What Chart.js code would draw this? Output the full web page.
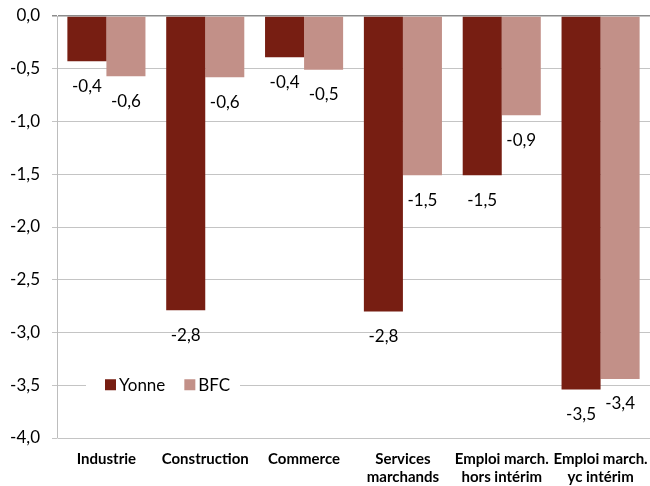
<!DOCTYPE html>
<html>
<head>
<meta charset="utf-8">
<script src="https://cdn.jsdelivr.net/npm/chart.js@4"></script>
<style>
  html, body { margin:0; padding:0; background:#fff; }
  #wrap { width:650px; height:486px; }
</style>
</head>
<body>
<div id="wrap"><canvas id="c" width="650" height="486"></canvas></div>
<script>
const categories = [
  ['Industrie'], ['Construction'], ['Commerce'],
  ['Services', 'marchands'], ['Emploi march.', 'hors intérim'], ['Emploi march.', 'yc intérim']
];
const yonne = [-0.43, -2.79, -0.39, -2.80, -1.51, -3.54];
const bfc   = [-0.57, -0.58, -0.51, -1.51, -0.94, -3.44];
const yTicks = [0, -0.5, -1, -1.5, -2, -2.5, -3, -3.5, -4];

const FONT = 'Lato, "Noto Sans", sans-serif';
const fmt = v => v.toFixed(1).replace('.', ',');

// value labels under each bar end
const barLabels = {
  id: 'barLabels',
  afterDatasetsDraw(chart){
    const ctx = chart.ctx;
    ctx.save();
    ctx.font = '17px ' + FONT;
    ctx.fillStyle = '#000';
    ctx.textAlign = 'center';
    ctx.textBaseline = 'middle';
    chart.data.datasets.forEach((ds, i) => {
      chart.getDatasetMeta(i).data.forEach((bar, j) => {
        ctx.fillText(fmt(ds.data[j]), bar.x, bar.y + 25);
      });
    });
    ctx.restore();
  }
};

// legend drawn inside plot area on a white box
const innerLegend = {
  id: 'innerLegend',
  afterDraw(chart){
    const ctx = chart.ctx, a = chart.chartArea;
    const cy = chart.scales.y.getPixelForValue(-3.5);
    ctx.save();
    ctx.font = '17px ' + FONT;
    ctx.fillStyle = '#fff';
    ctx.fillRect(a.left + 29, cy - 10, 154, 20);
    ctx.textBaseline = 'middle';
    ctx.textAlign = 'left';
    let x = a.left + 48;
    chart.data.datasets.forEach(ds => {
      ctx.fillStyle = ds.backgroundColor;
      ctx.fillRect(x, cy - 6, 11, 11);
      ctx.fillStyle = '#000';
      ctx.fillText(ds.label, x + 14, cy);
      x += 14 + ctx.measureText(ds.label).width + 19;
    });
    ctx.restore();
  }
};

new Chart(document.getElementById('c'), {
  type: 'bar',
  data: {
    labels: categories,
    datasets: [
      { label: 'Yonne', data: yonne, backgroundColor: '#771E12', categoryPercentage: 0.79, barPercentage: 1 },
      { label: 'BFC', data: bfc, backgroundColor: '#C29088', categoryPercentage: 0.79, barPercentage: 1 }
    ]
  },
  options: {
    responsive: false,
    animation: false,
    layout: { padding: { top: 16, right: 0, left: 0, bottom: 0 } },
    plugins: { legend: { display: false }, tooltip: { enabled: false } },
    scales: {
      x: {
        grid: { display: false },
        border: { display: false },
        ticks: { color: '#000', font: { family: FONT, size: 15, weight: 'bold', lineHeight: 1.2 }, padding: 4, maxRotation: 0, autoSkip: false },
        afterFit(s){ s.height = 48; s.paddingLeft = 0; s.paddingRight = 0; }
      },
      y: {
        min: -4, max: 0,
        afterBuildTicks(s){ s.ticks = yTicks.map(v => ({ value: v })); },
        grid: { color: c => c.tick && c.tick.value === 0 ? '#8c8c8c' : '#c4c4c4', lineWidth: c => c.tick && c.tick.value === 0 ? 1.5 : 1, tickLength: 5 },
        border: { color: '#bdbdbd' },
        ticks: { color: '#000', font: { family: FONT, size: 17 }, padding: 12, callback: v => fmt(v) },
        afterFit(s){ s.width = 57; s.paddingTop = 0; s.paddingBottom = 0; }
      }
    }
  },
  plugins: [barLabels, innerLegend]
});
</script>
</body>
</html>
